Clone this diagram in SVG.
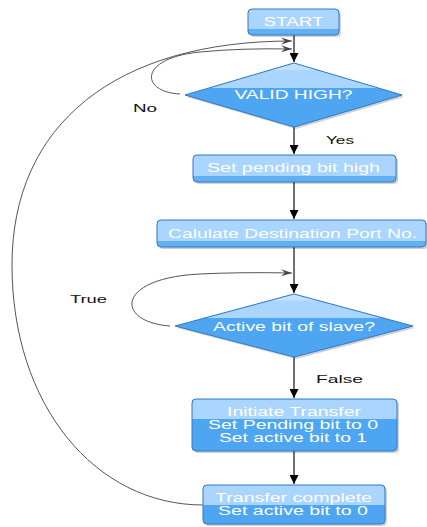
<svg xmlns="http://www.w3.org/2000/svg" width="427" height="527" viewBox="0 0 427 527">
<style>
.shadow{fill:#000;opacity:0.18}
.dark{fill:#4ea6f2}
.band{fill:#62b0f4}
.light{fill:#a9d5ff}
.hi{fill:#c2e1ff}
.border{fill:none;stroke:#2f79c6;stroke-width:1}
.t{font-family:"Liberation Sans",Arial,sans-serif;font-size:12px;fill:#ffffff;text-anchor:middle}
.lbl{font-family:"Liberation Sans",Arial,sans-serif;font-size:11px;fill:#111}
.line{fill:none;stroke:#111;stroke-width:1.2}
.loop{fill:none;stroke:#555;stroke-width:1}
</style>
<defs>
<marker id="ah" markerUnits="userSpaceOnUse" markerWidth="9" markerHeight="9" refX="8" refY="4" orient="auto" viewBox="0 0 8 8">
<path d="M0,0 L8,4 L0,8 Z" fill="#000"/>
</marker>
<marker id="oa" markerUnits="userSpaceOnUse" markerWidth="12" markerHeight="8" refX="11" refY="4" orient="auto" viewBox="0 0 12 8">
<path d="M0,0.5 L11,4 L0,7.5 L4,4 Z" fill="#444"/>
</marker>
</defs>

<g id="connectors">
<path class="line" d="M294,35 V62" marker-end="url(#ah)"/>
<path class="line" d="M294,127 V154" marker-end="url(#ah)"/>
<path class="line" d="M294,182 V219" marker-end="url(#ah)"/>
<path class="line" d="M294,247 V293" marker-end="url(#ah)"/>
<path class="line" d="M294,357 V398" marker-end="url(#ah)"/>
<path class="line" d="M294,451 V484" marker-end="url(#ah)"/>
<path class="loop" d="M180,94 C140,92 138,58 200,52 Q240,48 292,49" marker-end="url(#oa)"/>
<path class="loop" d="M203,505 C95,505 12,405 12,265 C12,125 115,41 292,41" marker-end="url(#oa)"/>
<path class="loop" d="M170,326 C115,322 115,278 200,274 Q240,272 292,273" marker-end="url(#oa)"/>
<text class="lbl" x="133" y="112" textLength="24" lengthAdjust="spacingAndGlyphs">No</text>
<text class="lbl" x="326" y="144" textLength="28" lengthAdjust="spacingAndGlyphs">Yes</text>
<text class="lbl" x="70" y="303" textLength="37" lengthAdjust="spacingAndGlyphs">True</text>
<text class="lbl" x="316" y="383" textLength="47" lengthAdjust="spacingAndGlyphs">False</text>
</g>

<g id="start">
<rect class="shadow" x="250" y="11" width="91" height="26" rx="4"/>
<rect class="band" x="248" y="9" width="91" height="26" rx="4"/>
<path class="light" d="M248,29 V13 Q248,9 252,9 H335 Q339,9 339,13 V29 Z"/>
<rect class="border" x="248" y="9" width="91" height="26" rx="4"/>
<text class="t" x="293.5" y="26" textLength="60" lengthAdjust="spacingAndGlyphs">START</text>
</g>

<g id="valid_high">
<polygon class="shadow" points="296,65 404,97 296,129 187,97" stroke-linejoin="round"/>
<polygon class="dark" points="294,63 402,95 294,127 185,95"/>
<polygon class="light" points="294,63 378.8,88 209.2,88"/>
<polygon class="hi" points="294,63 318,70 270,70"/>
<polygon points="294,63 402,95 294,127 185,95" fill="none" stroke="#2f79c6" stroke-width="1" stroke-linejoin="round"/>
<text class="t" x="293.5" y="99" textLength="118" lengthAdjust="spacingAndGlyphs">VALID HIGH?</text>
</g>

<g id="set_pending">
<rect class="shadow" x="195" y="157" width="203" height="27" rx="4"/>
<rect class="band" x="193" y="155" width="203" height="27" rx="4"/>
<path class="light" d="M193,176 V159 Q193,155 197,155 H392 Q396,155 396,159 V176 Z"/>
<rect class="border" x="193" y="155" width="203" height="27" rx="4"/>
<text class="t" x="293.5" y="172" textLength="173" lengthAdjust="spacingAndGlyphs">Set pending bit high</text>
</g>

<g id="calculate">
<rect class="shadow" x="159" y="222" width="269" height="27" rx="4"/>
<rect class="band" x="157" y="220" width="269" height="27" rx="4"/>
<path class="light" d="M157,241 V224 Q157,220 161,220 H422 Q426,220 426,224 V241 Z"/>
<rect class="border" x="157" y="220" width="269" height="27" rx="4"/>
<text class="t" x="292.5" y="238" textLength="249" lengthAdjust="spacingAndGlyphs">Calulate Destination Port No.</text>
</g>

<g id="active_bit">
<polygon class="shadow" points="296,296 415,328 296,359 177,328"/>
<polygon class="dark" points="294,294 413,326 294,357 175,326"/>
<polygon class="light" points="294,294 383,318 205,318"/>
<polygon class="hi" points="294,294 318,300.5 270,300.5"/>
<polygon points="294,294 413,326 294,357 175,326" fill="none" stroke="#2f79c6" stroke-width="1" stroke-linejoin="round"/>
<text class="t" x="294" y="331" textLength="162" lengthAdjust="spacingAndGlyphs">Active bit of slave?</text>
</g>

<g id="initiate">
<rect class="shadow" x="194" y="401" width="205" height="52" rx="4"/>
<rect class="dark" x="192" y="399" width="205" height="52" rx="4"/>
<path class="light" d="M192,419 V403 Q192,399 196,399 H393 Q397,399 397,403 V419 Z"/>
<rect class="border" x="192" y="399" width="205" height="52" rx="4"/>
<text class="t" x="294" y="416" textLength="134" lengthAdjust="spacingAndGlyphs">Initiate Transfer</text>
<text class="t" x="293" y="429" textLength="170" lengthAdjust="spacingAndGlyphs">Set Pending bit to 0</text>
<text class="t" x="293" y="442" textLength="148" lengthAdjust="spacingAndGlyphs">Set active bit to 1</text>
</g>

<g id="complete">
<rect class="shadow" x="205" y="487" width="182" height="39" rx="4"/>
<rect class="dark" x="203" y="485" width="182" height="39" rx="4"/>
<path class="light" d="M203,505 V489 Q203,485 207,485 H381 Q385,485 385,489 V505 Z"/>
<rect class="border" x="203" y="485" width="182" height="39" rx="4"/>
<text class="t" x="293.5" y="502" textLength="157" lengthAdjust="spacingAndGlyphs">Transfer complete</text>
<text class="t" x="293" y="515" textLength="150" lengthAdjust="spacingAndGlyphs">Set active bit to 0</text>
</g>
</svg>
